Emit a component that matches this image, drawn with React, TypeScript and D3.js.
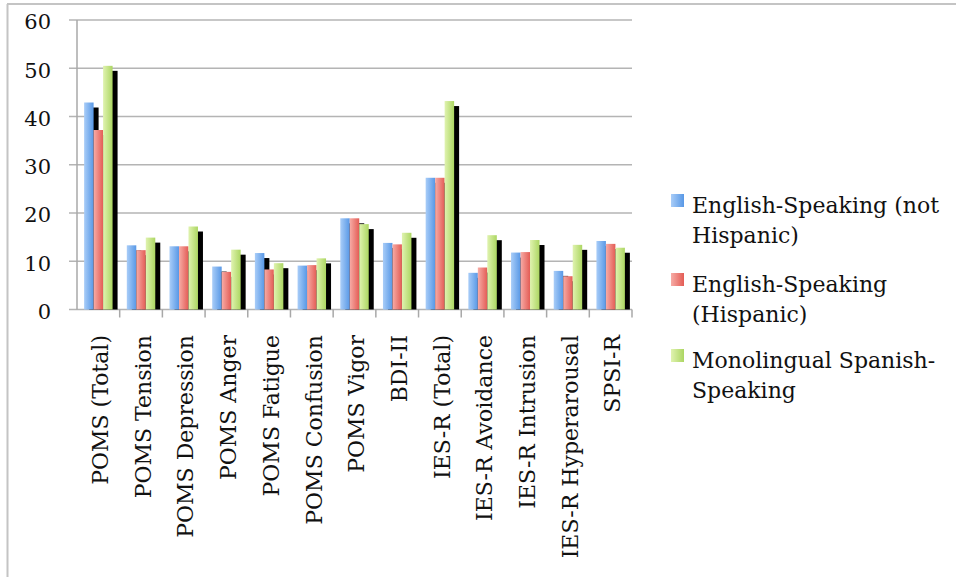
import React from "react";
import * as d3 from "d3";

const categories = [
  "POMS (Total)", "POMS Tension", "POMS Depression", "POMS Anger", "POMS Fatigue",
  "POMS Confusion", "POMS Vigor", "BDI-II", "IES-R (Total)", "IES-R Avoidance",
  "IES-R Intrusion", "IES-R Hyperarousal", "SPSI-R",
];
const englishNotHispanic = [42.9, 13.3, 13.1, 8.9, 11.7, 9.1, 18.9, 13.8, 27.3, 7.6, 11.8, 8.0, 14.2];
const englishHispanic = [37.2, 12.3, 13.1, 7.8, 8.3, 9.2, 18.9, 13.5, 27.3, 8.7, 11.9, 6.9, 13.6];
const monolingualSpanish = [50.5, 14.9, 17.2, 12.4, 9.6, 10.6, 17.7, 15.9, 43.2, 15.4, 14.4, 13.4, 12.8];
const seriesNames = [
  ["English-Speaking (not", "Hispanic)"],
  ["English-Speaking", "(Hispanic)"],
  ["Monolingual Spanish-", "Speaking"],
];
const yTicks = [0, 10, 20, 30, 40, 50, 60];

const seriesValues = [englishNotHispanic, englishHispanic, monolingualSpanish];
const gradients = [
  ["#a9cdf8", "#5898e6"],
  ["#f7aca6", "#e35c55"],
  ["#e0f3b0", "#acd662"],
];

export default function App() {
  const W = 956, H = 577;
  const left = 77, right = 632, top = 20, bottom = 309.5;
  const x = d3.scaleBand<string>().domain(categories).range([left, right]).paddingInner(0).paddingOuter(0);
  const bw = x.bandwidth() / 4.5;
  const off = bw * 0.75;
  const y = d3.scaleLinear().domain([0, 60]).range([bottom, top]);
  const sh = 5;
  const legendTops = [213, 292, 368];

  return (
    <svg width={W} height={H} style={{ position: "absolute", left: 0, top: 0, background: "#fff" }}
      fontFamily="'DejaVu Serif', serif">
      <defs>
        {gradients.map((g, i) => (
          <linearGradient key={i} id={`g${i}`} x1="0" x2="1" y1="0" y2="0">
            <stop offset="0" stopColor={g[0]} />
            <stop offset="1" stopColor={g[1]} />
          </linearGradient>
        ))}
      </defs>
      <line x1={7} x2={W} y1={4} y2={4} stroke="#c4c4c4" strokeWidth={2} />
      <line x1={7.5} x2={7.5} y1={4} y2={H} stroke="#c4c4c4" strokeWidth={2} />
      {yTicks.map((t) => (
        <g key={t}>
          <line x1={left - 8} x2={right} y1={y(t)} y2={y(t)} stroke="#b4b4b4" strokeWidth={1.5} />
          <text x={51} y={y(t) + 2} dy="0.35em" textAnchor="end" fontSize={21} fill="#111">{t}</text>
        </g>
      ))}
      <line x1={left} x2={left} y1={top} y2={bottom} stroke="#a8a8a8" strokeWidth={1.5} />
      {categories.map((c) => (
        <line key={c} x1={(x(c) as number) + x.bandwidth()} x2={(x(c) as number) + x.bandwidth()} y1={bottom} y2={bottom + 8} stroke="#a8a8a8" strokeWidth={1.5} />
      ))}
      {categories.map((c, i) => (
        <g key={c}>
          {seriesValues.map((vals, s) => {
            const bx = (x(c) as number) + off + s * bw;
            const by = y(vals[i]);
            return (
              <g key={s}>
                <rect x={bx + sh} y={by + sh} width={bw} height={Math.max(0, bottom - by - sh)} fill="#000" />
                <rect x={bx} y={by} width={bw} height={bottom - by} fill={`url(#g${s})`} />
              </g>
            );
          })}
        </g>
      ))}
      {categories.map((c) => {
        const cx = (x(c) as number) + x.bandwidth() / 2;
        return (
          <text key={c} transform={`translate(${cx + 2},335) rotate(-90)`} dy="0.35em" textAnchor="end" fontSize={22} fill="#111">{c}</text>
        );
      })}
      {seriesNames.map((lines, s) => (
        <g key={s}>
          <rect x={671} y={legendTops[s] - 19} width={13} height={13} fill={`url(#g${s})`} />
          {lines.map((ln, k) => (
            <text key={k} x={692} y={legendTops[s] + k * 29.5} fontSize={22} fill="#111">{ln}</text>
          ))}
        </g>
      ))}
    </svg>
  );
}
